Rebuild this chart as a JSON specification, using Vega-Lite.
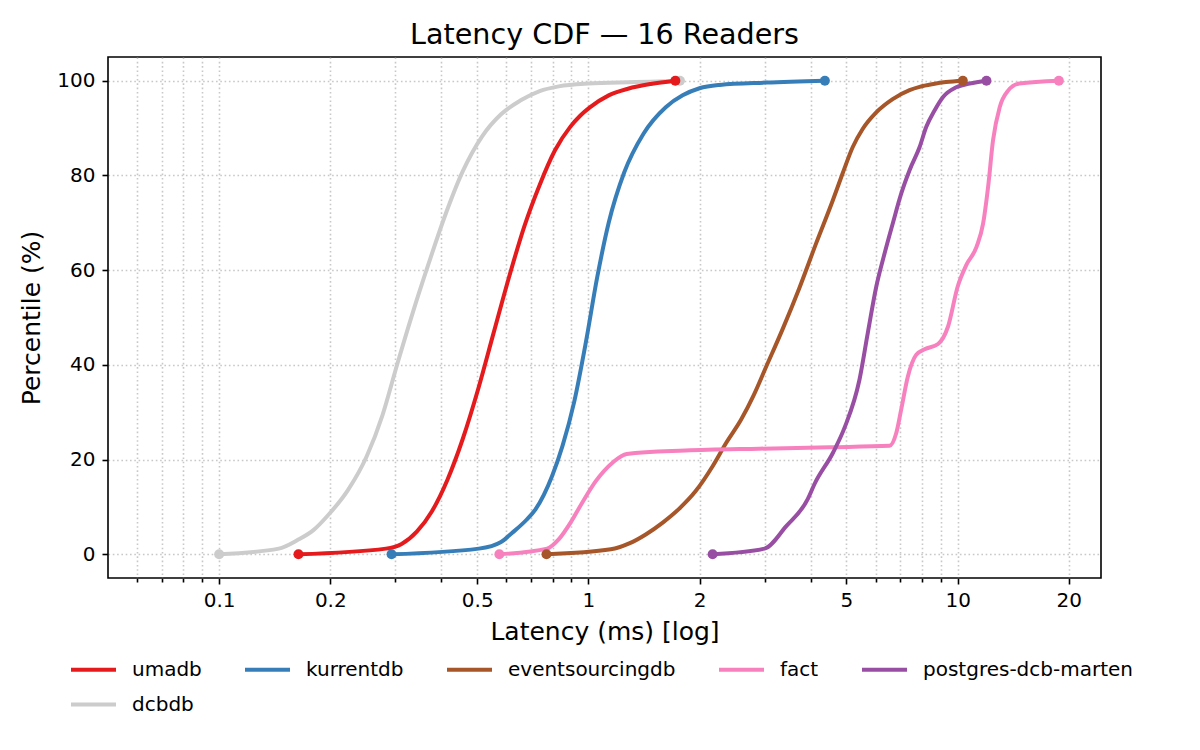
{
  "$schema": "https://vega.github.io/schema/vega-lite/v6.json",
  "width": 993,
  "height": 521,
  "autosize": "none",
  "padding": {"left": 108, "top": 57, "right": 99, "bottom": 172},
  "title": {"text": "Latency CDF — 16 Readers", "fontSize": 28.6, "font": "DejaVu Sans", "fontWeight": "normal", "color": "#000000", "baseline": "alphabetic", "frame": "group", "offset": 14, "dy": 30},
  "config": {
    "view": {"stroke": "#000000", "strokeWidth": 1.6},
    "font": "DejaVu Sans",
    "axis": {
      "domain": false,
      "tickColor": "#000000",
      "tickWidth": 1.6,
      "tickSize": 6,
      "labelFont": "DejaVu Sans",
      "labelFontSize": 20,
      "labelColor": "#000000",
      "titleFont": "DejaVu Sans",
      "titleFontSize": 25,
      "titleFontWeight": "normal",
      "titleColor": "#000000",
      "gridColor": "#b0b0b0",
      "gridDash": [1.6, 2.7],
      "gridWidth": 1.6,
      "gridOpacity": 0.7
    },
    "legend": {
      "labelFont": "DejaVu Sans",
      "labelFontSize": 20,
      "labelColor": "#000000",
      "labelLimit": 400
    }
  },
  "data": {"values": [
    {"s": "dcbdb", "x": 0.1, "y": 0},
    {"s": "dcbdb", "x": 0.145, "y": 1.2},
    {"s": "dcbdb", "x": 0.163, "y": 3.0},
    {"s": "dcbdb", "x": 0.18, "y": 5.1},
    {"s": "dcbdb", "x": 0.198, "y": 8.4},
    {"s": "dcbdb", "x": 0.223, "y": 13.5},
    {"s": "dcbdb", "x": 0.251, "y": 20.7},
    {"s": "dcbdb", "x": 0.277, "y": 29.4},
    {"s": "dcbdb", "x": 0.304, "y": 40.3},
    {"s": "dcbdb", "x": 0.335, "y": 51.2},
    {"s": "dcbdb", "x": 0.369, "y": 61.3},
    {"s": "dcbdb", "x": 0.406, "y": 70.8},
    {"s": "dcbdb", "x": 0.457, "y": 80.9},
    {"s": "dcbdb", "x": 0.515, "y": 88.2},
    {"s": "dcbdb", "x": 0.58, "y": 92.9},
    {"s": "dcbdb", "x": 0.654, "y": 95.8},
    {"s": "dcbdb", "x": 0.738, "y": 97.8},
    {"s": "dcbdb", "x": 0.831, "y": 98.8},
    {"s": "dcbdb", "x": 1.0, "y": 99.4},
    {"s": "dcbdb", "x": 1.34, "y": 99.7},
    {"s": "dcbdb", "x": 1.77, "y": 100},

    {"s": "umadb", "x": 0.164, "y": 0},
    {"s": "umadb", "x": 0.283, "y": 1.2},
    {"s": "umadb", "x": 0.312, "y": 2.2},
    {"s": "umadb", "x": 0.343, "y": 4.8},
    {"s": "umadb", "x": 0.377, "y": 9.1},
    {"s": "umadb", "x": 0.415, "y": 15.7},
    {"s": "umadb", "x": 0.457, "y": 24.4},
    {"s": "umadb", "x": 0.503, "y": 34.9},
    {"s": "umadb", "x": 0.554, "y": 46.8},
    {"s": "umadb", "x": 0.609, "y": 58.4},
    {"s": "umadb", "x": 0.671, "y": 69.3},
    {"s": "umadb", "x": 0.738, "y": 78.0},
    {"s": "umadb", "x": 0.812, "y": 85.3},
    {"s": "umadb", "x": 0.894, "y": 90.3},
    {"s": "umadb", "x": 0.95, "y": 92.6},
    {"s": "umadb", "x": 1.007, "y": 94.3},
    {"s": "umadb", "x": 1.135, "y": 96.9},
    {"s": "umadb", "x": 1.28, "y": 98.3},
    {"s": "umadb", "x": 1.475, "y": 99.3},
    {"s": "umadb", "x": 1.72, "y": 100},

    {"s": "kurrentdb", "x": 0.293, "y": 0},
    {"s": "kurrentdb", "x": 0.505, "y": 1.2},
    {"s": "kurrentdb", "x": 0.58, "y": 2.6},
    {"s": "kurrentdb", "x": 0.621, "y": 4.5},
    {"s": "kurrentdb", "x": 0.68, "y": 7.3},
    {"s": "kurrentdb", "x": 0.719, "y": 9.5},
    {"s": "kurrentdb", "x": 0.797, "y": 16.5},
    {"s": "kurrentdb", "x": 0.851, "y": 22.9},
    {"s": "kurrentdb", "x": 0.916, "y": 32.3},
    {"s": "kurrentdb", "x": 0.984, "y": 44.7},
    {"s": "kurrentdb", "x": 1.056, "y": 58.4},
    {"s": "kurrentdb", "x": 1.135, "y": 70},
    {"s": "kurrentdb", "x": 1.25, "y": 80.6},
    {"s": "kurrentdb", "x": 1.41, "y": 88.8},
    {"s": "kurrentdb", "x": 1.62, "y": 94.4},
    {"s": "kurrentdb", "x": 1.8, "y": 96.9},
    {"s": "kurrentdb", "x": 2.0, "y": 98.4},
    {"s": "kurrentdb", "x": 2.27, "y": 99.1},
    {"s": "kurrentdb", "x": 3.03, "y": 99.6},
    {"s": "kurrentdb", "x": 4.37, "y": 100},

    {"s": "eventsourcingdb", "x": 0.77, "y": 0},
    {"s": "eventsourcingdb", "x": 1.15, "y": 1.05},
    {"s": "eventsourcingdb", "x": 1.29, "y": 2.3},
    {"s": "eventsourcingdb", "x": 1.43, "y": 4.2},
    {"s": "eventsourcingdb", "x": 1.59, "y": 6.7},
    {"s": "eventsourcingdb", "x": 1.76, "y": 9.6},
    {"s": "eventsourcingdb", "x": 1.95, "y": 13.3},
    {"s": "eventsourcingdb", "x": 2.17, "y": 18.6},
    {"s": "eventsourcingdb", "x": 2.36, "y": 23.5},
    {"s": "eventsourcingdb", "x": 2.59, "y": 28.4},
    {"s": "eventsourcingdb", "x": 2.8, "y": 33.5},
    {"s": "eventsourcingdb", "x": 3.03, "y": 39.6},
    {"s": "eventsourcingdb", "x": 3.36, "y": 47.6},
    {"s": "eventsourcingdb", "x": 3.73, "y": 56.3},
    {"s": "eventsourcingdb", "x": 4.14, "y": 65.7},
    {"s": "eventsourcingdb", "x": 4.59, "y": 74.7},
    {"s": "eventsourcingdb", "x": 4.88, "y": 80.4},
    {"s": "eventsourcingdb", "x": 5.2, "y": 86.0},
    {"s": "eventsourcingdb", "x": 5.53, "y": 89.8},
    {"s": "eventsourcingdb", "x": 6.02, "y": 93.3},
    {"s": "eventsourcingdb", "x": 6.67, "y": 96.1},
    {"s": "eventsourcingdb", "x": 7.41, "y": 98.0},
    {"s": "eventsourcingdb", "x": 7.89, "y": 98.7},
    {"s": "eventsourcingdb", "x": 8.6, "y": 99.3},
    {"s": "eventsourcingdb", "x": 9.3, "y": 99.7},
    {"s": "eventsourcingdb", "x": 10.33, "y": 100},

    {"s": "fact", "x": 0.574, "y": 0},
    {"s": "fact", "x": 0.773, "y": 1.2},
    {"s": "fact", "x": 0.832, "y": 3.2},
    {"s": "fact", "x": 0.895, "y": 6.7},
    {"s": "fact", "x": 0.962, "y": 10.9},
    {"s": "fact", "x": 1.046, "y": 15.4},
    {"s": "fact", "x": 1.16, "y": 19.3},
    {"s": "fact", "x": 1.27, "y": 21.2},
    {"s": "fact", "x": 1.83, "y": 21.9},
    {"s": "fact", "x": 2.9, "y": 22.3},
    {"s": "fact", "x": 4.5, "y": 22.6},
    {"s": "fact", "x": 6.54, "y": 22.9},
    {"s": "fact", "x": 6.82, "y": 25.6},
    {"s": "fact", "x": 7.03, "y": 30.5},
    {"s": "fact", "x": 7.33, "y": 37.5},
    {"s": "fact", "x": 7.72, "y": 42.1},
    {"s": "fact", "x": 8.14, "y": 43.3},
    {"s": "fact", "x": 8.85, "y": 44.4},
    {"s": "fact", "x": 9.42, "y": 48.1},
    {"s": "fact", "x": 10.0, "y": 56.5},
    {"s": "fact", "x": 10.56, "y": 61.1},
    {"s": "fact", "x": 11.25, "y": 64.9},
    {"s": "fact", "x": 11.72, "y": 69.8},
    {"s": "fact", "x": 12.09, "y": 77.5},
    {"s": "fact", "x": 12.47, "y": 87.4},
    {"s": "fact", "x": 13.0, "y": 94.4},
    {"s": "fact", "x": 13.7, "y": 97.9},
    {"s": "fact", "x": 14.7, "y": 99.4},
    {"s": "fact", "x": 18.8, "y": 100},

    {"s": "postgres-dcb-marten", "x": 2.17, "y": 0},
    {"s": "postgres-dcb-marten", "x": 3.0, "y": 1.2},
    {"s": "postgres-dcb-marten", "x": 3.43, "y": 5.9},
    {"s": "postgres-dcb-marten", "x": 3.93, "y": 11.7},
    {"s": "postgres-dcb-marten", "x": 4.1, "y": 14.9},
    {"s": "postgres-dcb-marten", "x": 4.6, "y": 21.5},
    {"s": "postgres-dcb-marten", "x": 4.95, "y": 26.9},
    {"s": "postgres-dcb-marten", "x": 5.42, "y": 36.8},
    {"s": "postgres-dcb-marten", "x": 5.71, "y": 46.7},
    {"s": "postgres-dcb-marten", "x": 6.02, "y": 56.5},
    {"s": "postgres-dcb-marten", "x": 6.34, "y": 63.5},
    {"s": "postgres-dcb-marten", "x": 6.67, "y": 69.8},
    {"s": "postgres-dcb-marten", "x": 7.03, "y": 76.1},
    {"s": "postgres-dcb-marten", "x": 7.41, "y": 81.1},
    {"s": "postgres-dcb-marten", "x": 7.89, "y": 86.0},
    {"s": "postgres-dcb-marten", "x": 8.22, "y": 90.2},
    {"s": "postgres-dcb-marten", "x": 8.66, "y": 93.7},
    {"s": "postgres-dcb-marten", "x": 9.12, "y": 96.5},
    {"s": "postgres-dcb-marten", "x": 9.91, "y": 98.6},
    {"s": "postgres-dcb-marten", "x": 10.78, "y": 99.4},
    {"s": "postgres-dcb-marten", "x": 11.97, "y": 100}
  ]},
  "encoding": {
    "x": {
      "field": "x", "type": "quantitative",
      "scale": {"type": "log", "domain": [0.05, 24.45], "nice": false, "zero": false},
      "axis": {
        "title": "Latency (ms) [log]",
        "values": [0.06, 0.07, 0.08, 0.09, 0.1, 0.2, 0.3, 0.4, 0.5, 0.6, 0.7, 0.8, 0.9, 1, 2, 3, 4, 5, 6, 7, 8, 9, 10, 20],
        "labelExpr": "indexof([0.1, 0.2, 0.5, 1, 2, 5, 10, 20], datum.value) >= 0 ? format(datum.value, '~g') : ''",
        "tickSize": {"condition": {"test": "indexof([0.1, 0.2, 0.5, 1, 2, 5, 10, 20], datum.value) >= 0", "value": 6}, "value": 4},
        "labelPadding": 6,
        "titlePadding": 9,
        "labelFlush": false,
        "labelOverlap": false
      }
    },
    "y": {
      "field": "y", "type": "quantitative",
      "scale": {"domain": [-5, 105], "nice": false, "zero": false},
      "axis": {"title": "Percentile (%)", "values": [0, 20, 40, 60, 80, 100], "labelPadding": 7, "titlePadding": 12}
    },
    "color": {
      "field": "s", "type": "nominal",
      "scale": {
        "domain": ["umadb", "kurrentdb", "eventsourcingdb", "fact", "postgres-dcb-marten", "dcbdb"],
        "range": ["#e41a1c", "#377eb8", "#a65628", "#f781bf", "#984ea3", "#cccccc"]
      }
    }
  },
  "layer": [
    {
      "mark": {"type": "line", "strokeWidth": 4, "interpolate": "monotone"},
      "encoding": {
        "color": {
          "field": "s", "type": "nominal",
          "legend": {
            "title": null, "orient": "none", "legendX": -39, "legendY": 588,
            "direction": "horizontal", "columns": 5,
            "symbolType": "stroke", "symbolSize": 2025, "symbolStrokeWidth": 4,
            "labelOffset": 14, "columnPadding": 35, "rowPadding": -24, "padding": 0
          }
        }
      }
    },
    {
      "transform": [
        {"joinaggregate": [{"op": "min", "field": "x", "as": "xmin"}, {"op": "max", "field": "x", "as": "xmax"}], "groupby": ["s"]},
        {"filter": "datum.x == datum.xmin || datum.x == datum.xmax"}
      ],
      "mark": {"type": "circle", "size": 100, "opacity": 1},
      "encoding": {"color": {"field": "s", "type": "nominal", "legend": null}}
    }
  ]
}
